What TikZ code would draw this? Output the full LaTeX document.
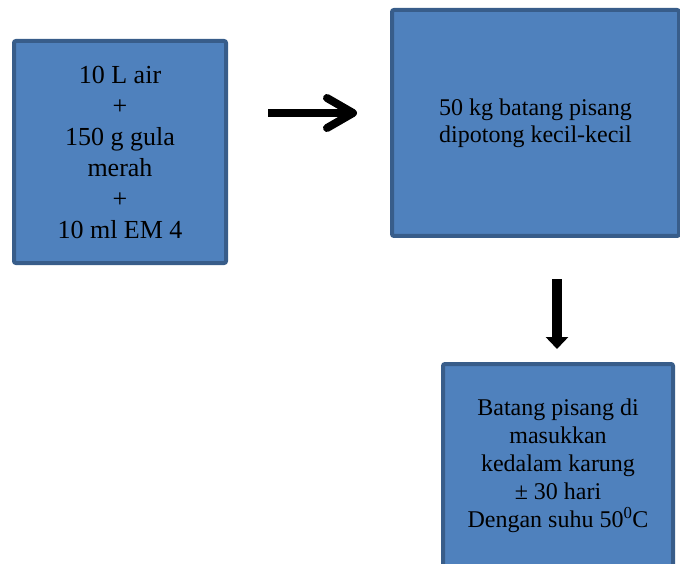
\documentclass[tikz,border=0pt]{standalone}
\usepackage{fontspec}
\setmainfont{Liberation Serif}
\usepackage{tikz}
\usetikzlibrary{positioning}
\usetikzlibrary{arrows.meta}

\definecolor{boxfill}{HTML}{4F81BD}
\definecolor{boxline}{HTML}{385D8A}

\begin{document}
\begin{tikzpicture}[x=1pt, y=-1pt,
    box/.style={draw=boxline, fill=boxfill, line width=4pt, rounded corners=2pt, align=center, inner sep=0pt}]
    \clip (0,0) rectangle (680,564);
    \node[box, minimum width=212pt, minimum height=222pt, font=\fontsize{26}{31}\selectfont] (bahan) at (120,152)
        {10 L air\\+\\150 g gula\\merah\\+\\10 ml EM 4};
    \node[box, minimum width=287pt, minimum height=226pt, font=\fontsize{24}{27}\selectfont] (potong) at (535.5,123)
        {50 kg batang pisang\\dipotong kecil-kecil};
    \node[box, minimum width=230pt, minimum height=204pt, font=\fontsize{24}{28}\selectfont] (karung) at (558,466)
        {Batang pisang di\\masukkan\\kedalam karung\\± 30 hari\\Dengan suhu 50\textsuperscript{0}C};
    % arrows
    \coordinate (kanan1) at (268,113);
    \coordinate (kanan2) at (357,113);
    \draw[line width=8pt, -{Straight Barb[length=26pt, width=30pt, round]}] (kanan1) -- (kanan2);
    \coordinate (bawah1) at (557,279);
    \coordinate (bawah2) at (557,349);
    \draw[line width=10pt, -{Triangle[length=12pt, width=22pt]}] (bawah1) -- (bawah2);
\end{tikzpicture}
\end{document}
